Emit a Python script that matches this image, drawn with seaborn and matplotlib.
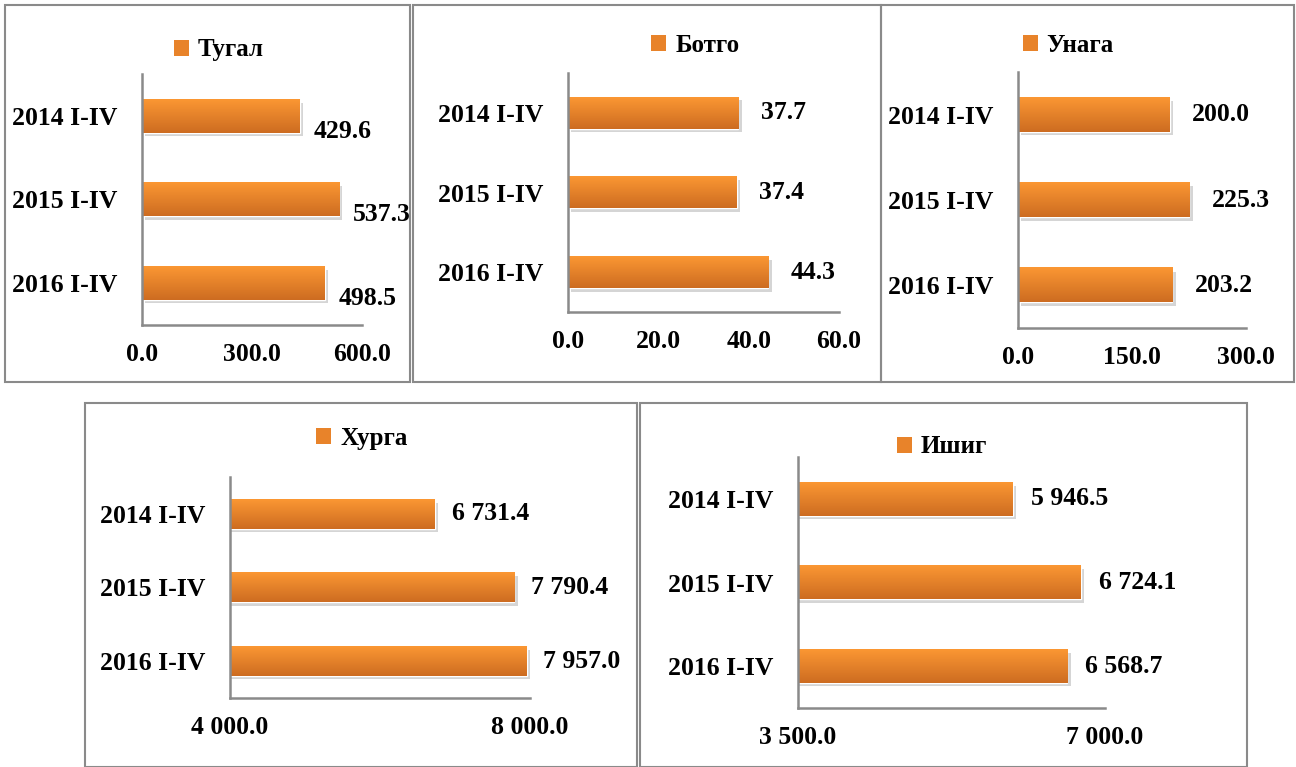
import numpy as np
import pandas as pd
import seaborn as sns
import matplotlib.pyplot as plt
import matplotlib.patheffects as pe
from matplotlib.patches import Rectangle, Patch


CATEGORIES = ["2014 I-IV", "2015 I-IV", "2016 I-IV"]

TUGAL = [429.6, 537.3, 498.5]
BOTGO = [37.7, 37.4, 44.3]
UNAGA = [200.0, 225.3, 203.2]
KHURGA = [6731.4, 7790.4, 7957.0]
ISHIG = [5946.5, 6724.1, 6568.7]

NAMES = ["Тугал", "Ботго", "Унага", "Хурга", "Ишиг"]
SERIES = [TUGAL, BOTGO, UNAGA, KHURGA, ISHIG]

TICKS = [
    [0, 300, 600],
    [0, 20, 40, 60],
    [0, 150, 300],
    [4000, 8000],
    [3500, 7000],
]

W, H = 1296, 767

# axes boxes in pixels: left, top, right, bottom
AX_BOX = [
    (142, 74, 362, 325),
    (568, 73, 839, 312),
    (1018, 72, 1246, 328),
    (230, 477, 530, 698),
    (798, 457, 1105, 708),
]
# panel frames in pixels
FRAMES = [
    (5, 5, 410, 382),
    (413, 5, 881, 382),
    (881, 5, 1294, 382),
    (85, 403, 637, 767),
    (640, 403, 1247, 767),
]
# legend anchor (axes fraction)
LEGEND_POS = [(0.35, 1.096), (0.47, 1.117), (0.22, 1.105), (0.44, 1.176), (0.47, 1.04)]
# value label offsets in points (dx, dy)
LABEL_OFF = [(10, -11), (16, 0), (16, 0), (12, 0), (13, 0)]

GREY = "#8a8a8a"
TOP_C = np.array([0xfb, 0x97, 0x33]) / 255
BOT_C = np.array([0xcd, 0x6c, 0x21]) / 255
FONT = "Liberation Serif"
FS = 18.5


def fmt(v):
    return f"{v:,.1f}".replace(",", " ")


def gradient_bars(ax):
    grad = np.linspace(0, 1, 64)[:, None, None]
    img = TOP_C * (1 - grad) + BOT_C * grad
    left = ax.get_xlim()[0]
    for bar in ax.patches:
        bar.set_path_effects([
            pe.SimplePatchShadow(offset=(2.5, -2.5), shadow_rgbFace="k", alpha=0.18),
            pe.Normal(),
        ])
        x0, y0 = max(bar.get_x(), left), bar.get_y()
        x1, y1 = bar.get_x() + bar.get_width(), y0 + bar.get_height()
        im = ax.imshow(img, extent=[x0, x1, y1, y0], aspect="auto",
                       origin="upper", zorder=bar.get_zorder() + 0.1)
        im.set_clip_path(bar)
        im.set_clip_box(ax.bbox)


def panel(fig, i):
    l, t, r, b = AX_BOX[i]
    ax = fig.add_axes([l / W, 1 - b / H, (r - l) / W, (b - t) / H])
    df = pd.DataFrame({"period": CATEGORIES, "value": SERIES[i]})
    sns.barplot(data=df, x="value", y="period", orient="h", width=0.4,
                color="#e8832a", ax=ax, zorder=2)

    ticks = TICKS[i]
    ax.set_xlim(ticks[0], ticks[-1])
    gradient_bars(ax)
    ax.set_xlim(ticks[0], ticks[-1])
    ax.set_ylim(len(CATEGORIES) - 0.5, -0.5)
    ax.set_xticks(ticks)
    ax.set_xticklabels([fmt(t) for t in ticks])
    ax.set_yticks(range(len(CATEGORIES)))
    ax.set_yticklabels(CATEGORIES)
    ax.set_yticks(np.arange(-0.5, len(CATEGORIES)), minor=True)
    ax.set_xlabel("")
    ax.set_ylabel("")

    ax.set_facecolor("white")
    for side in ["top", "right"]:
        ax.spines[side].set_visible(False)
    for side in ["left", "bottom"]:
        ax.spines[side].set_color(GREY)
        ax.spines[side].set_linewidth(1.8)
    ax.tick_params(axis="y", which="major", length=0, pad=18)
    ax.tick_params(axis="y", which="minor", length=5, width=1.8, color=GREY)
    ax.tick_params(axis="x", length=5, width=1.8, color=GREY, pad=8)
    for lab in ax.get_xticklabels() + ax.get_yticklabels():
        lab.set_fontfamily(FONT)
        lab.set_fontweight("bold")
        lab.set_fontsize(FS)
        lab.set_color("black")

    dx, dy = LABEL_OFF[i]
    for bar, v in zip(ax.patches, SERIES[i]):
        ax.annotate(fmt(v), (bar.get_x() + bar.get_width(), bar.get_y() + bar.get_height() / 2),
                    xytext=(dx, dy), textcoords="offset points", ha="left", va="center",
                    fontfamily=FONT, fontweight="bold", fontsize=FS, color="black")

    handle = Patch(facecolor="#e8832a", edgecolor="none")
    ax.legend([handle], [NAMES[i]], loc="center", bbox_to_anchor=LEGEND_POS[i],
              frameon=False, handlelength=0.6, handleheight=0.6, handletextpad=0.35,
              labelcolor="black",
              prop={"family": FONT, "weight": "bold", "size": FS - 0.5})
    return ax


def main():
    sns.set_theme(style="white")
    fig = plt.figure(figsize=(W / 100, H / 100), dpi=100)
    fig.patch.set_facecolor("white")

    for l, t, r, b in FRAMES:
        fig.add_artist(Rectangle((l / W, 1 - b / H), (r - l) / W, (b - t) / H,
                                 transform=fig.transFigure, fill=False,
                                 edgecolor=GREY, linewidth=1.5))

    for i in range(len(SERIES)):
        panel(fig, i)

    fig.savefig("out.png", dpi=100, facecolor="white")


if __name__ == "__main__":
    main()
